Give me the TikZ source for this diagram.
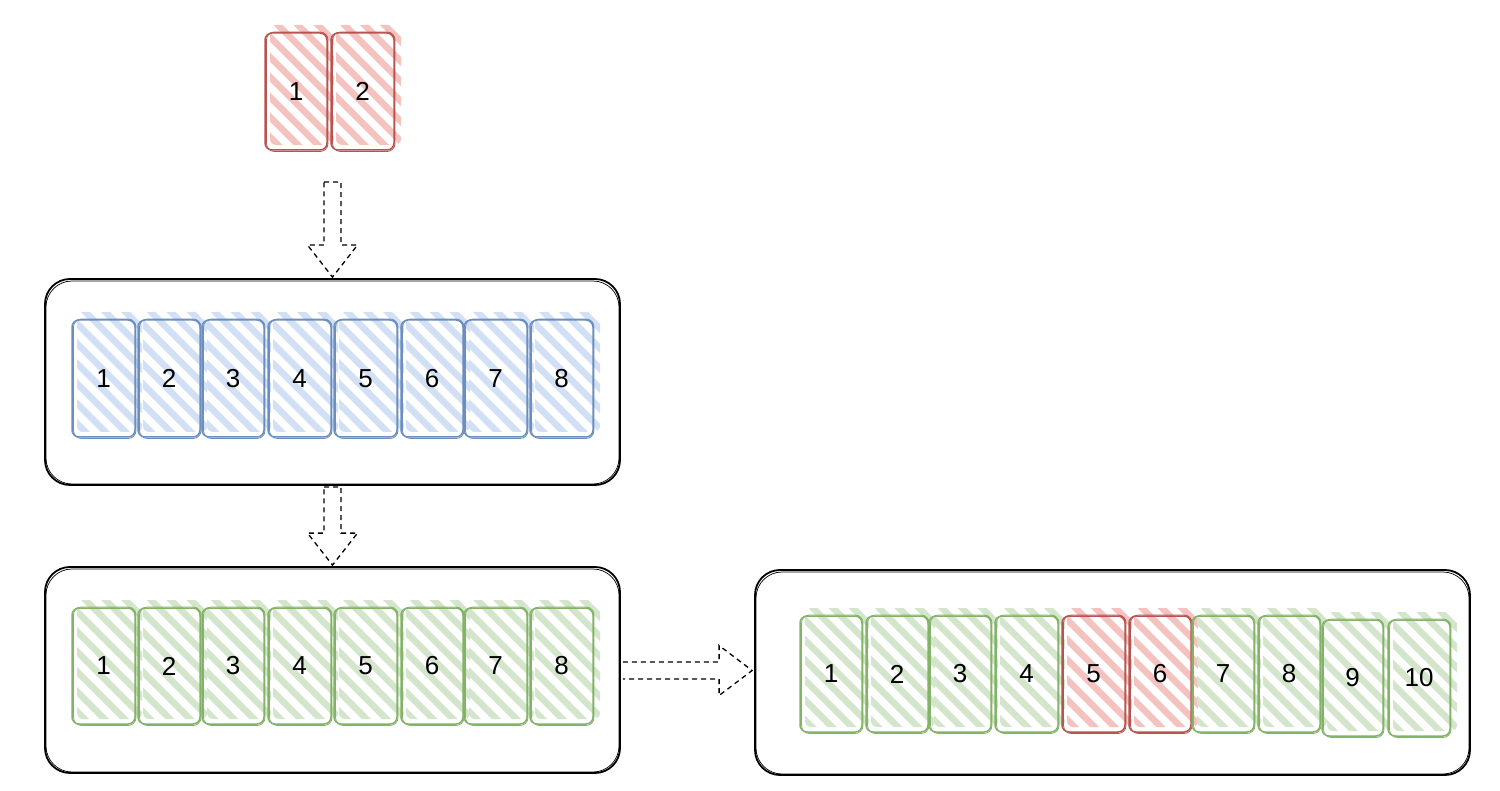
\documentclass[tikz,border=0pt]{standalone}
\usepackage{fontspec}
\setmainfont{Liberation Sans}
\usetikzlibrary{calc}
\definecolor{hatchred}{HTML}{F4C3C0}
\definecolor{linered}{HTML}{B85450}
\definecolor{hatchblue}{HTML}{D2E0F5}
\definecolor{lineblue}{HTML}{6C8EBF}
\definecolor{hatchgreen}{HTML}{D3E6CC}
\definecolor{linegreen}{HTML}{82B366}
\tikzset{
  cellbox/.style={rounded corners=7pt, line width=1.5pt, inner sep=0pt, font=\fontsize{26}{30}\selectfont},
  container/.style={draw=black, fill=white, rounded corners=25pt, line width=1.8pt, inner sep=0pt},
  blockarrow/.style={draw=black, line width=1.3pt, dash pattern=on 5pt off 4pt, line join=miter}
}
\newcommand\cell[7]{%
  \begin{scope}
    \clip[rounded corners=6pt] (#2-#4/2+5, #3-#5/2-8) rectangle (#2+#4/2+7, #3+#5/2-5);
    \foreach \k in {-10,...,5} \draw[hatch#6, line width=6.5pt] (#2+\k*20, #3-#5/2-10) -- ++(170pt,-170pt);
  \end{scope}
  \draw[line#6, line width=0.8pt, rounded corners=8pt] (#2-#4/2+1.5, #3-#5/2-1) rectangle (#2+#4/2+1, #3+#5/2+1.5);
  \node[cellbox, draw=line#6, minimum width=#4, minimum height=#5] (#1) at (#2,#3) {#7};
}
\newcommand\blockdown[2]{%
  \draw[blockarrow] ($(#1)+(-8.5,-#2)$) -- ($(#1)+(8.5,-#2)$) -- ($(#1)+(8.5,-32)$) -- ($(#1)+(25,-32)$)
    -- (#1) -- ($(#1)+(-25,-32)$) -- ($(#1)+(-8.5,-32)$) -- cycle;
}
\begin{document}
\begin{tikzpicture}[x=1pt,y=-1pt]
\useasboundingbox (0,0) rectangle (1500,791);
% containers
\node[container, minimum width=575, minimum height=206] (c1) at (332.5,382) {};
\draw[black, line width=0.7pt, rounded corners=26pt] (46,281) rectangle (619,484);
\node[container, minimum width=575, minimum height=206] (c2) at (332.5,670) {};
\draw[black, line width=0.7pt, rounded corners=26pt] (46,569) rectangle (619,772);
\node[container, minimum width=715, minimum height=205] (c3) at (1112.5,672.5) {};
\draw[black, line width=0.7pt, rounded corners=26pt] (756,572) rectangle (1469,774);
% top red cells
\cell{t1}{296}{91.5}{62}{117}{red}{1}
\cell{t2}{362.5}{91.5}{63}{117}{red}{2}
% blue cells
\cell{b1}{103.5}{378.5}{63}{117}{blue}{1}
\cell{b2}{169}{378.5}{62}{117}{blue}{2}
\cell{b3}{233}{378.5}{62}{117}{blue}{3}
\cell{b4}{299.5}{378.5}{63}{117}{blue}{4}
\cell{b5}{365.5}{378.5}{63}{117}{blue}{5}
\cell{b6}{432}{378.5}{62}{117}{blue}{6}
\cell{b7}{495.5}{378.5}{63}{117}{blue}{7}
\cell{b8}{561.5}{378.5}{63}{117}{blue}{8}
% green cells
\cell{g1}{103.5}{666}{63}{116}{green}{1}
\cell{g2}{169}{666}{62}{116}{green}{2}
\cell{g3}{233}{666}{62}{116}{green}{3}
\cell{g4}{299.5}{666}{63}{116}{green}{4}
\cell{g5}{365.5}{666}{63}{116}{green}{5}
\cell{g6}{432}{666}{62}{116}{green}{6}
\cell{g7}{495.5}{666}{63}{116}{green}{7}
\cell{g8}{561.5}{666}{63}{116}{green}{8}
% right cells
\cell{r1}{831}{674}{62}{116}{green}{1}
\cell{r2}{897}{674}{62}{116}{green}{2}
\cell{r3}{960}{674}{62}{116}{green}{3}
\cell{r4}{1026.5}{674}{63}{116}{green}{4}
\cell{r5}{1093.5}{674}{63}{116}{red}{5}
\cell{r6}{1160}{674}{62}{116}{red}{6}
\cell{r7}{1223}{674}{62}{116}{green}{7}
\cell{r8}{1289}{674}{62}{116}{green}{8}
\cell{r9}{1352.5}{678}{61}{116}{green}{9}
\cell{r10}{1419}{678}{62}{116}{green}{10}
% arrows
\coordinate (a1) at ($(c1.north)+(0,-1)$);
\blockdown{a1}{95}
\coordinate (a2) at ($(c2.north)+(0,-1)$);
\blockdown{a2}{78}
\coordinate (a3) at ($(c3.west)+(-2,-2)$);
\coordinate (a3s) at ($(c2.east)+(2,0)$);
\draw[blockarrow] (a3s |- 0,662) -- ($(a3)+(-33,-8.5)$) -- ($(a3)+(-33,-25)$) -- (a3)
  -- ($(a3)+(-33,25)$) -- ($(a3)+(-33,8.5)$) -- (a3s |- 0,679);
\end{tikzpicture}
\end{document}
